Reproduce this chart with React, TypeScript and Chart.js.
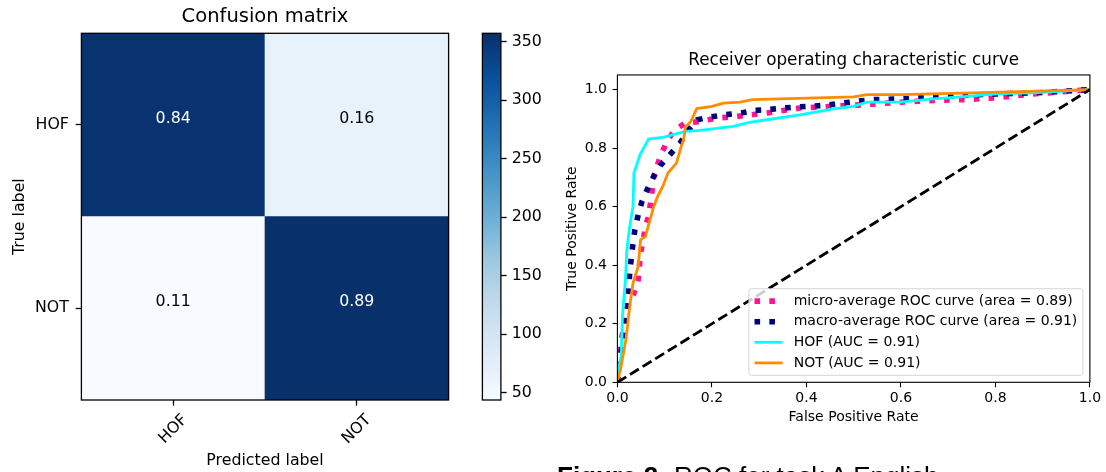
import React, { useEffect, useRef } from "react";
import { Chart, registerables } from "chart.js";

Chart.register(...registerables);

const FONT = "'DejaVu Sans', sans-serif";

// ---------- Confusion matrix data ----------
const classLabels = ["HOF", "NOT"];
const cmCounts = [
  [353, 67],
  [44, 357],
];
const cmNormalized = [
  [0.84, 0.16],
  [0.11, 0.89],
];
const colorbarTicks = [50, 100, 150, 200, 250, 300, 350];

// ---------- ROC data ----------
const rocTicks = [0, 0.2, 0.4, 0.6, 0.8, 1.0];
const rocLabels = [
  "micro-average ROC curve (area = 0.89)",
  "macro-average ROC curve (area = 0.91)",
  "HOF (AUC = 0.91)",
  "NOT (AUC = 0.91)",
];
const microFpr = [0, 0.002, 0.004, 0.011, 0.022, 0.035, 0.044, 0.049, 0.055, 0.059, 0.066, 0.07, 0.074, 0.077, 0.092, 0.107, 0.122, 0.144, 0.175, 0.21, 0.245, 0.316, 0.386, 0.457, 0.528, 0.598, 0.669, 0.739, 0.8, 0.88, 1];
const microTpr = [0, 0.06, 0.111, 0.168, 0.259, 0.304, 0.35, 0.441, 0.487, 0.532, 0.567, 0.612, 0.664, 0.704, 0.778, 0.829, 0.863, 0.886, 0.891, 0.903, 0.907, 0.92, 0.937, 0.943, 0.949, 0.957, 0.963, 0.966, 0.972, 0.985, 1];
const macroFpr = [0, 0.004, 0.015, 0.022, 0.026, 0.029, 0.033, 0.037, 0.044, 0.052, 0.063, 0.077, 0.092, 0.114, 0.133, 0.151, 0.169, 0.195, 0.228, 0.262, 0.291, 0.321, 0.35, 0.383, 0.416, 0.446, 0.475, 0.508, 0.542, 0.604, 0.667, 0.8, 0.9, 1];
const macroTpr = [0, 0.065, 0.168, 0.27, 0.373, 0.418, 0.475, 0.521, 0.572, 0.618, 0.658, 0.704, 0.743, 0.783, 0.818, 0.863, 0.897, 0.906, 0.914, 0.92, 0.929, 0.932, 0.937, 0.941, 0.944, 0.947, 0.954, 0.96, 0.966, 0.968, 0.975, 0.985, 0.99, 1];
const hofFpr = [0, 0.003, 0.008, 0.011, 0.017, 0.02, 0.026, 0.033, 0.035, 0.048, 0.066, 0.099, 0.12, 0.144, 0.175, 0.245, 0.28, 0.316, 0.386, 0.457, 0.499, 0.528, 0.598, 0.669, 0.739, 0.81, 0.88, 1];
const hofTpr = [0, 0.05, 0.09, 0.236, 0.35, 0.453, 0.532, 0.601, 0.715, 0.778, 0.831, 0.838, 0.847, 0.857, 0.861, 0.874, 0.888, 0.897, 0.914, 0.934, 0.943, 0.957, 0.957, 0.968, 0.977, 0.986, 0.989, 1];
const notFpr = [0, 0.007, 0.018, 0.026, 0.033, 0.044, 0.049, 0.059, 0.066, 0.077, 0.085, 0.096, 0.107, 0.125, 0.133, 0.14, 0.144, 0.155, 0.168, 0.2, 0.224, 0.26, 0.285, 0.5, 0.528, 0.6, 0.75, 0.87, 1];
const notTpr = [0, 0.048, 0.145, 0.259, 0.339, 0.396, 0.487, 0.498, 0.538, 0.601, 0.635, 0.669, 0.715, 0.749, 0.795, 0.829, 0.872, 0.89, 0.935, 0.943, 0.954, 0.957, 0.966, 0.975, 0.983, 0.983, 0.989, 0.994, 1];
const chanceFpr = [0, 1];
const chanceTpr = [0, 1];

// ---------- helpers ----------
const BLUES = ["#f7fbff", "#deebf7", "#c6dbef", "#9ecae1", "#6baed6", "#4292c6", "#2171b5", "#08519c", "#08306b"];
function hexToRgb(h: string) {
  const n = parseInt(h.slice(1), 16);
  return [(n >> 16) & 255, (n >> 8) & 255, n & 255];
}
function bluesAt(t: number) {
  const tt = Math.max(0, Math.min(1, t)) * (BLUES.length - 1);
  const i = Math.min(BLUES.length - 2, Math.floor(tt));
  const f = tt - i;
  const a = hexToRgb(BLUES[i]);
  const b = hexToRgb(BLUES[i + 1]);
  return `rgb(${a.map((v, k) => Math.round(v + (b[k] - v) * f)).join(",")})`;
}
const framePlugin = (lw: number) => ({
  id: "frame",
  afterDatasetsDraw(chart: any) {
    const { ctx, chartArea } = chart;
    ctx.save();
    ctx.lineWidth = lw;
    ctx.strokeStyle = "#000";
    ctx.setLineDash([]);
    ctx.strokeRect(chartArea.left, chartArea.top, chartArea.right - chartArea.left, chartArea.bottom - chartArea.top);
    ctx.restore();
  },
});

const cmFlat = cmCounts.flat();
const VMIN = Math.min(...cmFlat);
const VMAX = Math.max(...cmFlat);

const LFS = 15.8; // left figure base font
const RFS = 14; // right figure base font

function ConfusionChart() {
  const ref = useRef<HTMLCanvasElement>(null);
  useEffect(() => {
    const n = classLabels.length;
    const thresh = VMAX / 2;
    const datasets = classLabels.map((_, k) => {
      const r = n - 1 - k;
      return {
        label: classLabels[r],
        data: classLabels.map(() => 1),
        backgroundColor: cmCounts[r].map((v) => bluesAt((v - VMIN) / (VMAX - VMIN))),
        borderWidth: 0,
        barPercentage: 1,
        categoryPercentage: 1,
      };
    });
    const cellText = {
      id: "cellText",
      afterDatasetsDraw(chart: any) {
        const { ctx, scales } = chart;
        ctx.save();
        ctx.font = `${LFS}px ${FONT}`;
        ctx.textAlign = "center";
        ctx.textBaseline = "middle";
        for (let r = 0; r < n; r++) {
          for (let c = 0; c < n; c++) {
            const px = scales.x.getPixelForValue(c);
            const py = scales.y.getPixelForValue(n - 1 - r + 0.5) - 6;
            ctx.fillStyle = cmCounts[r][c] > thresh ? "#ffffff" : "#000000";
            ctx.fillText(cmNormalized[r][c].toFixed(2), px, py);
          }
        }
        ctx.restore();
      },
    };
    const tickGrid = { display: true, drawOnChartArea: false, drawTicks: true, tickLength: 5.7, tickWidth: 1.3, tickColor: "#000", offset: false };
    const chart = new Chart(ref.current as HTMLCanvasElement, {
      type: "bar",
      data: { labels: classLabels, datasets: datasets as any },
      options: {
        animation: false,
        responsive: false,
        events: [],
        layout: { padding: { left: 0, right: 21.4, top: 0, bottom: 0 } },
        plugins: {
          legend: { display: false },
          tooltip: { enabled: false },
          title: {
            display: true,
            text: "Confusion matrix",
            color: "#000",
            font: { family: FONT, size: 19.5, weight: "normal" as any },
            padding: { top: 5.3, bottom: 4.6 },
            fullSize: false,
          },
        },
        scales: {
          x: {
            type: "category",
            stacked: true,
            offset: true,
            grid: tickGrid as any,
            border: { display: false },
            ticks: { color: "#000", font: { family: FONT, size: LFS }, minRotation: 45, maxRotation: 45, padding: 5, labelOffset: 11.9, autoSkip: false },
            title: { display: true, text: "Predicted label", color: "#000", font: { family: FONT, size: LFS }, padding: { top: 0, bottom: 1.5 } },
            afterFit: (s: any) => { s.height = 72; },
          },
          y: {
            type: "linear",
            stacked: true,
            min: 0,
            max: n,
            afterBuildTicks: (s: any) => { s.ticks = classLabels.map((_, k) => ({ value: k + 0.5 })); },
            grid: tickGrid as any,
            border: { display: false },
            ticks: { color: "#000", font: { family: FONT, size: LFS }, padding: 6.8, callback: (v: any) => classLabels[n - 1 - Math.floor(Number(v))] },
            title: { display: true, text: "True label", color: "#000", font: { family: FONT, size: LFS }, padding: { top: 10.1, bottom: 0 } },
            afterFit: (s: any) => { s.width = 81.4; },
          },
        },
      },
      plugins: [cellText, framePlugin(1.3)],
    });
    return () => chart.destroy();
  }, []);
  return <canvas ref={ref} width={470} height={472} style={{ position: "absolute", left: 0, top: 0 }} />;
}

function ColorbarChart() {
  const ref = useRef<HTMLCanvasElement>(null);
  useEffect(() => {
    const chart = new Chart(ref.current as HTMLCanvasElement, {
      type: "bar",
      data: {
        labels: [""],
        datasets: [
          {
            data: [[VMIN, VMAX]] as any,
            backgroundColor: (c: any) => {
              const { chart } = c;
              const area = chart.chartArea;
              if (!area) return BLUES[0];
              const g = chart.ctx.createLinearGradient(0, area.bottom, 0, area.top);
              BLUES.forEach((col, i) => g.addColorStop(i / (BLUES.length - 1), col));
              return g;
            },
            borderWidth: 0,
            barPercentage: 1,
            categoryPercentage: 1,
          } as any,
        ],
      },
      options: {
        animation: false,
        responsive: false,
        events: [],
        layout: { padding: { left: 12.4, right: 0, top: 33.3, bottom: 72 } },
        plugins: { legend: { display: false }, tooltip: { enabled: false } },
        scales: {
          x: { display: false },
          y: {
            position: "right",
            min: VMIN,
            max: VMAX,
            afterBuildTicks: (s: any) => { s.ticks = colorbarTicks.map((v) => ({ value: v })); },
            grid: { display: true, drawOnChartArea: false, drawTicks: true, tickLength: 5.7, tickWidth: 1.3, tickColor: "#000" },
            border: { display: false },
            ticks: { color: "#000", font: { family: FONT, size: LFS }, padding: 5.1 },
            afterFit: (s: any) => { s.width = 59.1; },
          },
        },
      },
      plugins: [framePlugin(1.3)],
    });
    return () => chart.destroy();
  }, []);
  return <canvas ref={ref} width={90} height={472} style={{ position: "absolute", left: 470, top: 0 }} />;
}

function RocChart() {
  const ref = useRef<HTMLCanvasElement>(null);
  useEffect(() => {
    const toPts = (xs: number[], ys: number[]) => xs.map((x, i) => ({ x, y: ys[i] }));
    const line = { pointRadius: 0, fill: false, tension: 0 };
    const legendPlugin = {
      id: "rocLegend",
      afterDraw(chart: any) {
        const { ctx, chartArea } = chart;
        const fs = RFS;
        ctx.save();
        ctx.font = `${fs}px ${FONT}`;
        const items = chart.data.datasets.filter((d: any) => d.label);
        const textW = Math.max(...items.map((d: any) => ctx.measureText(d.label).width));
        const pad = 0.4 * fs, handleLen = 2 * fs, gap = 0.8 * fs, rowH = 13.6, spacing = 0.5 * fs, axPad = 0.5 * fs;
        const w = pad + handleLen + gap + textW + pad;
        const h = pad * 2 + items.length * rowH + (items.length - 1) * spacing;
        const right = chartArea.right - axPad;
        const bottom = chartArea.bottom - axPad;
        const left = right - w;
        const top = bottom - h;
        const rad = 0.2 * fs;
        ctx.beginPath();
        ctx.moveTo(left + rad, top);
        ctx.arcTo(right, top, right, bottom, rad);
        ctx.arcTo(right, bottom, left, bottom, rad);
        ctx.arcTo(left, bottom, left, top, rad);
        ctx.arcTo(left, top, right, top, rad);
        ctx.closePath();
        ctx.fillStyle = "rgba(255,255,255,0.8)";
        ctx.fill();
        ctx.lineWidth = 1;
        ctx.strokeStyle = "rgba(204,204,204,0.8)";
        ctx.stroke();
        items.forEach((d: any, i: number) => {
          const cy = top + pad + rowH / 2 + i * (rowH + spacing);
          ctx.beginPath();
          ctx.setLineDash(d.borderDash || []);
          ctx.lineWidth = d.borderWidth;
          ctx.strokeStyle = d.borderColor;
          ctx.lineCap = "butt";
          ctx.moveTo(left + pad, cy);
          ctx.lineTo(left + pad + handleLen, cy);
          ctx.stroke();
          ctx.setLineDash([]);
          ctx.fillStyle = "#000";
          ctx.textBaseline = "middle";
          ctx.textAlign = "left";
          ctx.fillText(d.label, left + pad + handleLen + gap, cy);
        });
        ctx.restore();
      },
    };
    const grid = { display: true, drawOnChartArea: false, drawTicks: true, tickLength: 4.9, tickWidth: 1.1, tickColor: "#000" };
    const chart = new Chart(ref.current as HTMLCanvasElement, {
      type: "line",
      data: {
        datasets: [
          { label: rocLabels[0], data: toPts(microFpr, microTpr), borderColor: "#ff1493", borderWidth: 5.6, borderDash: [5.6, 9.24], order: 5, ...line },
          { label: rocLabels[1], data: toPts(macroFpr, macroTpr), borderColor: "#000080", borderWidth: 5.6, borderDash: [5.6, 9.24], order: 4, ...line },
          { label: rocLabels[2], data: toPts(hofFpr, hofTpr), borderColor: "#00ffff", borderWidth: 2.8, order: 3, ...line },
          { label: rocLabels[3], data: toPts(notFpr, notTpr), borderColor: "#ff8c00", borderWidth: 2.8, order: 2, ...line },
          { label: "", data: toPts(chanceFpr, chanceTpr), borderColor: "#000000", borderWidth: 2.8, borderDash: [10.36, 4.48], order: 1, ...line },
        ] as any,
      },
      options: {
        animation: false,
        responsive: false,
        events: [],
        layout: { padding: { left: 0, right: 16.1, top: 0, bottom: 0 } },
        plugins: {
          legend: { display: false },
          tooltip: { enabled: false },
          title: {
            display: true,
            text: "Receiver operating characteristic curve",
            color: "#000",
            font: { family: FONT, size: 16.8, weight: "normal" as any },
            padding: { top: 50.9, bottom: 3.9 },
            fullSize: false,
          },
        },
        scales: {
          x: {
            type: "linear",
            min: 0,
            max: 1,
            afterBuildTicks: (s: any) => { s.ticks = rocTicks.map((v) => ({ value: v })); },
            grid: grid as any,
            border: { display: false },
            ticks: { color: "#000", font: { family: FONT, size: RFS }, padding: 2.7, maxRotation: 0, callback: (v: any) => Number(v).toFixed(1) },
            title: { display: true, text: "False Positive Rate", color: "#000", font: { family: FONT, size: RFS }, padding: { top: 0, bottom: 13.9 } },
            afterFit: (s: any) => { s.height = 57.7; },
          },
          y: {
            type: "linear",
            min: 0,
            max: 1.05,
            afterBuildTicks: (s: any) => { s.ticks = rocTicks.map((v) => ({ value: v })); },
            grid: grid as any,
            border: { display: false },
            ticks: { color: "#000", font: { family: FONT, size: RFS }, padding: 5.5, callback: (v: any) => Number(v).toFixed(1) },
            title: { display: true, text: "True Positive Rate", color: "#000", font: { family: FONT, size: RFS }, padding: { top: 4.1, bottom: 0 } },
            afterFit: (s: any) => { s.width = 57.4; },
          },
        },
      },
      plugins: [framePlugin(1.1), legendPlugin],
    });
    return () => chart.destroy();
  }, []);
  return <canvas ref={ref} width={546} height={440} style={{ position: "absolute", left: 560, top: 0 }} />;
}

export default function App() {
  return (
    <div style={{ position: "absolute", left: 0, top: 0, width: 1106, height: 472, background: "#fff", overflow: "hidden" }}>
      <ConfusionChart />
      <ColorbarChart />
      <RocChart />
      <div style={{ position: "absolute", left: 557, top: 463, fontSize: 26, lineHeight: 1, whiteSpace: "nowrap", color: "#000", fontFamily: "'Liberation Sans', Arial, sans-serif" }}>
        <b>Figure 2:</b> ROC for task A English
      </div>
    </div>
  );
}
